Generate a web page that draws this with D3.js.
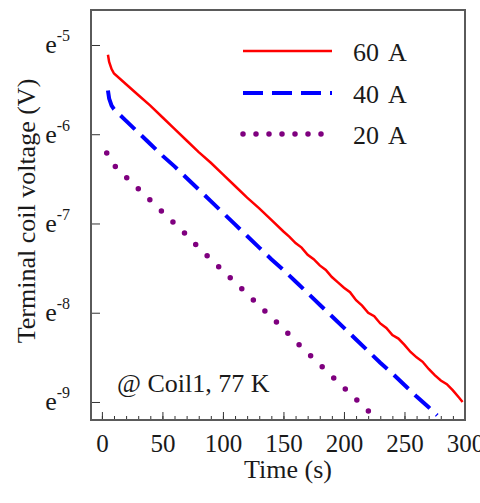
<!DOCTYPE html>
<html>
<head>
<meta charset="utf-8">
<script src="https://cdn.jsdelivr.net/npm/d3@7"></script>
<style>
  body { margin: 0; background: #fff; }
  text { font-family: "Liberation Serif", "Times New Roman", serif; fill: #1a1a1a; }
</style>
</head>
<body>
<div id="chart"></div>
<script>
// size of the page and the plot box
var width = 480,
    height = 503
var margin = {left: 91, right: 15, top: 10, bottom: 83}

// data: time (s) and ln of terminal voltage (V)
var time60 = [5, 6, 8, 10, 20, 30, 40, 50, 60, 70, 80, 90, 100, 110, 120, 130, 140, 150, 155, 160, 165, 170, 175, 180, 185, 190, 195, 200, 205, 210, 215, 220, 225, 230, 235, 240, 245, 250, 255, 260, 265, 270, 275, 280, 285, 290, 295, 298]
var lnV60  = [-5.11, -5.19, -5.27, -5.32, -5.44, -5.56, -5.68, -5.81, -5.94, -6.07, -6.20, -6.32, -6.45, -6.58, -6.71, -6.83, -6.96, -7.09, -7.15, -7.22, -7.27, -7.35, -7.40, -7.47, -7.52, -7.60, -7.66, -7.72, -7.77, -7.86, -7.92, -8.00, -8.04, -8.12, -8.17, -8.25, -8.29, -8.36, -8.44, -8.50, -8.55, -8.63, -8.70, -8.76, -8.80, -8.87, -8.95, -9.00]

var time40 = [5, 6, 8, 10, 20, 30, 40, 50, 60, 70, 80, 90, 100, 110, 120, 130, 140, 150, 160, 170, 180, 190, 200, 210, 220, 230, 240, 250, 260, 270, 277]
var lnV40  = [-5.51, -5.60, -5.68, -5.72, -5.85, -5.98, -6.11, -6.24, -6.36, -6.49, -6.62, -6.75, -6.88, -7.01, -7.14, -7.27, -7.40, -7.52, -7.65, -7.78, -7.91, -8.04, -8.17, -8.30, -8.43, -8.56, -8.68, -8.81, -8.94, -9.06, -9.15]

var time20 = [4, 11, 20, 30, 40, 50, 60, 70, 80, 90, 100, 110, 120, 130, 140, 150, 160, 170, 180, 190, 200, 210, 220, 224]
var lnV20  = [-6.21, -6.36, -6.48, -6.61, -6.74, -6.87, -7.00, -7.13, -7.27, -7.40, -7.53, -7.66, -7.79, -7.92, -8.05, -8.18, -8.32, -8.45, -8.58, -8.71, -8.84, -8.97, -9.10, -9.16]

var seriesNames = ["60 A", "40 A", "20 A"]
var seriesColors = ["#ff0000", "#0000ff", "#7f007f"]
var xTicks = [0, 50, 100, 150, 200, 250, 300]
var yExponents = [-5, -6, -7, -8, -9]

var series = [
  {name: seriesNames[0], color: seriesColors[0], t: time60, v: lnV60, width: 2.5, dash: null, legendDash: null},
  {name: seriesNames[1], color: seriesColors[1], t: time40, v: lnV40, width: 4, dash: "20 9", legendDash: "20 9"},
  {name: seriesNames[2], color: seriesColors[2], t: time20, v: lnV20, width: 5.5, dash: "0 16", legendDash: "0 13"}
]

var svg = d3.select("#chart")
  .append("svg")
  .attr("width", width)
  .attr("height", height)

var x = d3.scaleLinear()
  .domain([-9, 300])
  .range([margin.left, width - margin.right])

// natural-log axis
var y = d3.scaleLog()
  .base(Math.E)
  .domain([Math.exp(-9.202), Math.exp(-4.608)])
  .range([height - margin.bottom, margin.top])

svg.append("clipPath").attr("id", "clip")
  .append("rect")
  .attr("x", margin.left).attr("y", margin.top)
  .attr("width", width - margin.left - margin.right)
  .attr("height", height - margin.top - margin.bottom)

// curves
var line = d3.line()
  .x(function(d) { return x(d[0]) })
  .y(function(d) { return y(Math.exp(d[1])) })

series.forEach(function(s) {
  var pts = s.t.map(function(t, i) { return [t, s.v[i]] })
  svg.append("path")
    .attr("clip-path", "url(#clip)")
    .attr("d", line(pts))
    .attr("fill", "none")
    .attr("stroke", s.color)
    .attr("stroke-width", s.width)
    .attr("stroke-linecap", s.dash == "0 16" ? "round" : "butt")
    .attr("stroke-dasharray", s.dash)
})

// x axis: minor ticks every 10 s, major every 50 s
svg.append("g")
  .attr("transform", "translate(0," + (height - margin.bottom) + ")")
  .call(d3.axisBottom(x).tickValues(d3.range(0, 301, 10)).tickSize(-4).tickFormat(""))
  .call(function(g) { g.select(".domain").remove() })
  .selectAll("line").attr("stroke", "#333")

svg.append("g")
  .attr("transform", "translate(0," + (height - margin.bottom) + ")")
  .call(d3.axisBottom(x).tickValues(xTicks).tickSize(-8).tickPadding(14))
  .call(function(g) { g.select(".domain").remove() })
  .call(function(g) {
    g.selectAll("line").attr("stroke", "#333")
    g.selectAll("text").style("font-size", "25px").attr("fill", "#1a1a1a")
      .style("font-family", "Liberation Serif")
  })

// y axis with e^n labels
var yAxis = svg.append("g")
  .attr("transform", "translate(" + margin.left + ",0)")
  .call(d3.axisLeft(y).tickValues(yExponents.map(function(e) { return Math.exp(e) }))
    .tickSize(-9).tickFormat(""))
yAxis.select(".domain").remove()
yAxis.selectAll("line").attr("stroke", "#333")

yAxis.selectAll(".tick").each(function(d) {
  var t = d3.select(this).append("text")
    .attr("x", -21)
    .attr("y", 8)
    .attr("text-anchor", "end")
    .attr("fill", "#1a1a1a")
    .style("font-size", "26px")
    .style("font-family", "Liberation Serif")
  t.append("tspan").text("e")
  t.append("tspan").attr("dy", -12).style("font-size", "16px")
    .text("-" + Math.round(-Math.log(d)))
})

// frame
svg.append("rect")
  .attr("x", margin.left).attr("y", margin.top)
  .attr("width", width - margin.left - margin.right)
  .attr("height", height - margin.top - margin.bottom)
  .attr("fill", "none")
  .attr("stroke", "#5a5a5a")
  .attr("stroke-width", 2)

// axis titles
svg.append("text")
  .attr("x", 288).attr("y", 478)
  .attr("text-anchor", "middle")
  .style("font-size", "26px")
  .text("Time (s)")

svg.append("text")
  .attr("transform", "translate(35,211) rotate(-90)")
  .attr("text-anchor", "middle")
  .style("font-size", "26px")
  .text("Terminal coil voltage (V)")

// annotation
svg.append("text")
  .attr("x", 117).attr("y", 392)
  .style("font-size", "26px")
  .text("@ Coil1, 77 K")

// legend
var legY = [51, 93, 134]
var legend = svg.selectAll(".legend")
  .data(series)
  .enter()
  .append("g")
  .attr("transform", function(d, i) { return "translate(0," + legY[i] + ")" })

legend.append("line")
  .attr("x1", 243).attr("x2", 332)
  .attr("stroke", function(d) { return d.color })
  .attr("stroke-width", function(d) { return d.width })
  .attr("stroke-linecap", function(d) { return d.legendDash == "0 13" ? "round" : "butt" })
  .attr("stroke-dasharray", function(d) { return d.legendDash })

legend.append("text")
  .attr("x", 353).attr("y", 10)
  .style("font-size", "26px")
  .style("word-spacing", "4px")
  .text(function(d) { return d.name })
</script>
</body>
</html>
